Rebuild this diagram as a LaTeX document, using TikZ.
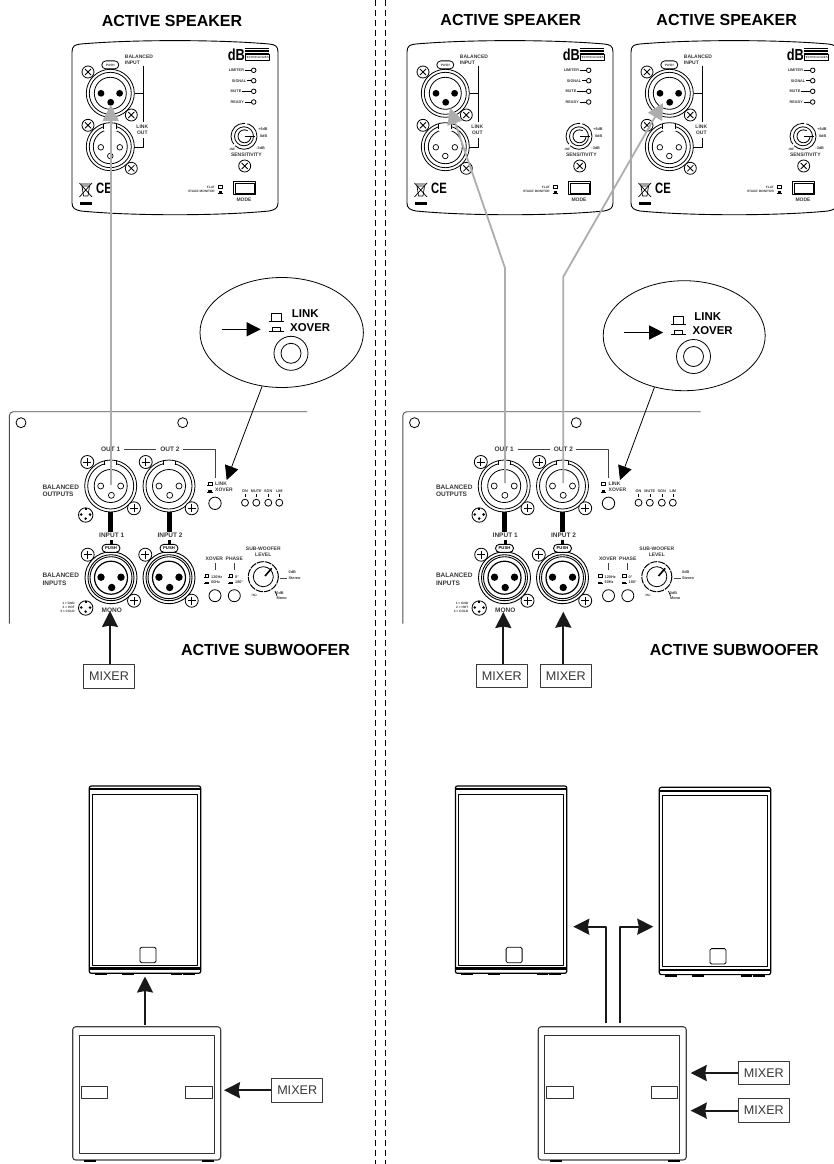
\documentclass[tikz,border=0pt]{standalone}
\usepackage{fontspec}
\setmainfont{Liberation Sans}
\usetikzlibrary{arrows.meta,positioning,shapes.geometric}

\definecolor{inkgray}{gray}{0.22}
\definecolor{cablegray}{gray}{0.68}

\tikzset{
  headlab/.style={font=\bfseries\fontsize{16}{16}\selectfont,inner sep=0pt},
  biglab/.style={font=\bfseries\fontsize{6.5}{7.2}\selectfont,text=inkgray,inner sep=0pt,align=left},
  midlab/.style={font=\bfseries\fontsize{5}{5.8}\selectfont,text=inkgray,inner sep=0pt,align=left},
  smalllab/.style={font=\bfseries\fontsize{3.8}{4.3}\selectfont,text=inkgray,inner sep=0pt,align=left},
  tinylab/.style={font=\bfseries\fontsize{3.2}{3.8}\selectfont,text=inkgray,inner sep=0pt,align=left},
  mixerbox/.style={draw=inkgray,line width=0.8pt,minimum width=51pt,minimum height=23.5pt,inner sep=0pt,
    font=\fontsize{12.6}{13}\selectfont,text=inkgray},
  blackarrow/.style={-{Stealth[length=16pt,width=16pt,inset=1.5pt]},line width=2pt,black!90},
  grayarrow/.style={-{Triangle[length=16pt,width=16pt]},line width=1.8pt,cablegray,line join=round},
  thinarrow/.style={-{Triangle[length=14pt,width=14pt]},line width=0.8pt},
  xscrew/.pic={
    \draw[line width=0.8pt,fill=white] (0,0) circle (6);
    \draw[line width=0.8pt] (-3,-3) -- (3,3) (-3,3) -- (3,-3);
  },
  plusscrew/.pic={
    \draw[line width=0.8pt,fill=white] (0,0) circle (6.5);
    \draw[line width=0.8pt] (-4,0) -- (4,0) (0,-4) -- (0,4);
  },
  xlrsocket/.pic={
    \draw[line width=0.8pt] (0,0) circle (24) circle (21) ;
    \draw[line width=0.8pt] (0,0) circle (16);
    \foreach \x/\y in {-9.3/0,9.3/0,0.4/9}{\fill (\x,\y) circle (3.4);}
    \draw[line width=0.8pt,fill=white,rounded corners=4pt] (-8.5,-32.4) rectangle (8.5,-24.4);
    \node[tinylab] (push) at (0,-28.4) {PUSH};
  },
  xlrplug/.pic={
    \draw[line width=0.8pt] (0,0) circle (24) circle (21);
    \draw[line width=0.8pt] (0,0) circle (17);
    \fill[white] (-6.5,-22) rectangle (6.5,-16);
    \draw[line width=0.8pt] (-6.5,-22.8) -- (-6.5,-18) (6.5,-22.8) -- (6.5,-18);
    \foreach \x/\y in {-9.5/0.6,9.5/0.6,0/9.3}{\draw[line width=0.7pt] (\x,\y) circle (2.8);}
  },
  subplug/.pic={
    \draw[line width=0.8pt] (0,0) circle (26) circle (23);
    \draw[line width=0.8pt] (0,0) circle (16.5);
    \fill[white] (-6,-24.4) rectangle (6,-21.6);
    \draw[line width=0.8pt] (-6,-25) -- (-6,-21) (6,-25) -- (6,-21);
    \foreach \x/\y in {-10/0,10/0,0.7/9.3}{\draw[line width=0.7pt] (\x,\y) circle (3);}
  },
  subsocket/.pic={
    \draw[line width=0.9pt] (0,0) circle (26) circle (23) circle (21);
    \draw[line width=1.2pt] (0,0) circle (16.5);
    \foreach \x/\y in {-10/-0.5,10/-0.5,0.7/9.8}{\fill (\x,\y) circle (3.7);}
    \draw[line width=0.9pt,fill=white,rounded corners=4pt] (-9,-33.4) rectangle (9,-25.4);
    \node[font=\bfseries\fontsize{4.2}{5}\selectfont,inner sep=0pt] (push) at (0,-29.4) {PUSH};
  },
  minixlr/.pic={
    \draw[line width=0.8pt] (0,0) circle (7.2);
    \foreach \x/\y in {-4.4/-0.5,4.4/-0.5,0/3.6}{\fill (\x,\y) circle (1.4);}
    \fill (-1.2,-7) rectangle (1.2,-4.6);
  },
  bigswitch/.pic={
    \draw[line width=0.8pt] (-7.5,0) -- (7.5,0) (-5,0) -- (-5,-8) -- (5,-8) -- (5,0);
  },
  bigswitchdown/.pic={
    \draw[line width=0.8pt] (-7.5,0) -- (7.5,0) (-4,0) -- (-4,-4) -- (4,-4) -- (4,0);
  },
  smallswitch/.pic={
    \draw[line width=0.6pt] (-2.6,1.4) -- (2.6,1.4) (-1.8,1.4) -- (-1.8,-1.6) -- (1.8,-1.6) -- (1.8,1.4);
  },
  smallswitchdown/.pic={
    \draw[line width=0.6pt] (-2.6,1.4) -- (2.6,1.4);
    \fill (-1.8,1.4) rectangle (1.8,-0.4);
  },
  speakerpanel/.pic={
    \draw[line width=0.9pt,fill=white] (0,12) .. controls (0,6) and (3,4.5) .. (9,4) .. controls (60,-0.5) and (146,-0.5) .. (197,4)
      .. controls (203,4.5) and (206,6) .. (206,12) -- (206,163) .. controls (206,168) and (203,170) .. (197,171)
      .. controls (146,176) and (60,176) .. (9,171) .. controls (3,170) and (0,168) .. (0,163) -- cycle;
    \pic at (38.3,53.3) {xlrsocket};
    \pic at (38.3,106.7) {xlrplug};
    \pic at (16,32) {xscrew};
    \pic at (59.3,75) {xscrew};
    \pic at (16,85.3) {xscrew};
    \pic at (59.3,128.3) {xscrew};
    \draw[line width=0.8pt] (71,25.7) -- (71,81.7) (62.5,53.3) -- (71,53.3);
    \draw[line width=0.8pt] (71,98.3) -- (71,107.3) -- (62,107.3);
    \node[midlab,anchor=north west] (balin) at (52.7,15) {BALANCED\\INPUT};
    \node[midlab] (link) at (70.3,87) {LINK};
    \node[midlab] (out) at (70.3,93) {OUT};
    % logo
    \node[font=\bfseries\fontsize{16}{16}\selectfont,inner sep=0pt,xscale=0.8] (logo) at (164.3,15) {dB};
    \foreach \y in {8.8,10.2,11.6,13}{\draw[line width=0.6pt] (173,\y) -- (197,\y);}
    \draw[line width=0.5pt] (173,14.6) rectangle (197,20.6);
    \node[font=\fontsize{3}{3}\selectfont,inner sep=0pt] (techno) at (185,17.6) {TECHNOLOGIES};
    % leds
    \foreach \y/\name/\lab/\st in {30.3/limiter/LIMITER/172.7,40.7/signal/SIGNAL/175,51.3/mute/MUTE/170,62/ready/READY/172.7}{
      \node[smalllab,anchor=east] (\name) at (\st-0.5,\y) {\lab};
      \draw[line width=0.8pt] (\st,\y) -- (179.4,\y);
      \draw[line width=0.8pt] (181.7,\y) circle (2.3);
    }
    % sensitivity
    \draw[line width=0.8pt,dash pattern=on 30pt off 2pt] (172,96.3) circle (13);
    \draw[line width=0.8pt] (172,96.3) circle (9.5);
    \draw[line width=0.8pt] (179,96.3) arc (0:300:6.5);
    \draw[line width=0.8pt] (172.5,96.3) -- (183,96.3);
    \node[smalllab] (plussix) at (191,89.3) {+6dB};
    \node[smalllab] (zerodb) at (191.7,96.3) {0dB};
    \node[smalllab] (minusthree) at (188.7,108.3) {-3dB};
    \node[tinylab] (minusinf) at (160.3,109) {-INF};
    \node[midlab] (sens) at (174.3,115) {SENSITIVITY};
    \pic at (172.7,126) {xscrew};
    % mode
    \draw[line width=1pt] (161.7,141.7) rectangle (183.7,154.3);
    \draw[line width=0.5pt] (163.5,143.2) rectangle (182,152.8);
    \node[midlab] (mode) at (172,160) {MODE};
    \node[tinylab,anchor=east] (flat) at (143,147.3) {FLAT};
    \node[tinylab,anchor=east] (stage) at (143,151.2) {STAGE MONITOR};
    \pic at (148.3,147.3) {smallswitch};
    \pic at (148.3,151.4) {smallswitchdown};
    % marks
    \draw[line width=0.7pt] (9,144) -- (18.5,144) (10,146) -- (11.5,156) -- (16,156) -- (17.5,146) -- cycle;
    \draw[line width=0.7pt] (7.5,143) -- (20,157) (20,143) -- (7.5,157);
    \fill (8,162) rectangle (20,165);
    \node[font=\bfseries\fontsize{15}{15}\selectfont,inner sep=0pt,xscale=0.75] (ce) at (32,148.5) {CE};
  },
  linkcallout/.pic={
    \pic at (276,321.5) {bigswitch};
    \pic at (276,331) {bigswitchdown};
    \node[font=\bfseries\fontsize{11.4}{12}\selectfont,inner sep=0pt,anchor=west] (link) at (291.7,313.3) {LINK};
    \node[font=\bfseries\fontsize{11.4}{12}\selectfont,inner sep=0pt,anchor=west] (xover) at (290,327.3) {XOVER};
    \draw[line width=0.8pt] (291,353.3) circle (17) circle (10);
    \coordinate (pointstart) at (221.7,329.3);
    \coordinate (pointend) at (260.7,329.3);
    \draw[thinarrow] (pointstart) -- (pointend);
  },
  subpanel/.pic={
    \draw[line width=0.9pt,black!70,rounded corners=4pt] (307,411.7) -- (9.3,411.7) -- (9.3,623.5);
    \draw[line width=0.8pt] (21,422.7) circle (5) (182.7,422.7) circle (5);
    \node[biglab] (out1) at (110.7,449.3) {OUT 1};
    \node[biglab] (out2) at (170,449.3) {OUT 2};
    \draw[line width=0.8pt,black!75] (124,449.3) -- (156,449.3) (182.7,449.3) -- (215,449.3) -- (215,478.3);
    \pic at (110.7,486) {subplug};
    \pic at (169,486) {subplug};
    \pic at (87.3,462) {plusscrew};
    \pic at (134,508.3) {plusscrew};
    \pic at (145.7,462) {plusscrew};
    \pic at (191.7,508.3) {plusscrew};
    \pic at (85.7,515) {minixlr};
    \node[biglab,anchor=west] (balout) at (42.3,490.8) {BALANCED\\OUTPUTS};
    \fill (108.2,511.7) rectangle (113.2,531.7);
    \fill (166.5,511.7) rectangle (171.5,531.7);
    \node[biglab] (input1) at (111.7,535.7) {INPUT 1};
    \node[biglab] (input2) at (170,535.7) {INPUT 2};
    \fill (110.2,540) rectangle (113.2,544);
    \fill (167.8,540) rectangle (170.8,544);
    \pic at (111,577.7) {subsocket};
    \pic at (169,577.7) {subsocket};
    \pic at (87.7,554.7) {plusscrew};
    \pic at (134,600.7) {plusscrew};
    \pic at (145.3,554.7) {plusscrew};
    \pic at (191.7,600.7) {plusscrew};
    \pic at (85.7,608) {minixlr};
    \node[biglab,anchor=west] (balin) at (42.3,579.2) {BALANCED\\INPUTS};
    \node[tinylab,anchor=east,align=right] (legend) at (75,607.5) {1 = GND\\2 = HOT\\3 = COLD};
    \node[biglab] (mono) at (111.7,610.7) {MONO};
    % link switch
    \pic at (210,484) {smallswitch};
    \pic at (210,490.6) {smallswitchdown};
    \node[midlab,anchor=west] (link) at (215,484) {LINK};
    \node[midlab,anchor=west] (xover) at (215,490) {XOVER};
    \draw[line width=0.8pt] (215,503.3) circle (6.2);
    % status leds
    \foreach \x/\lab in {245/ON,256.3/MUTE,268.3/SGN,279.3/LIM}{
      \node[smalllab] (led\lab) at (\x,491) {\lab};
      \draw[line width=0.6pt] (\x,494) -- (\x,497.3);
      \draw[line width=0.8pt] (\x,502.7) circle (3.5);
    }
    % xover and phase
    \node[midlab] (xovertop) at (214.3,559) {XOVER};
    \node[midlab] (phase) at (234.3,559) {PHASE};
    \draw[line width=0.8pt,black!75] (215,563) -- (215,570) (234.3,563) -- (234.3,570);
    \pic at (206.7,576) {smallswitch};
    \pic at (206.7,582.3) {smallswitchdown};
    \pic at (230.7,576) {smallswitch};
    \pic at (230.7,582.3) {smallswitchdown};
    \node[smalllab,anchor=west] (hz120) at (211,577) {120Hz};
    \node[smalllab,anchor=west] (hz60) at (211,582.3) {60Hz};
    \node[smalllab,anchor=west] (deg0) at (235,577) {0\textdegree};
    \node[smalllab,anchor=west] (deg180) at (235,582.3) {180\textdegree};
    \draw[line width=0.8pt] (215,595.7) circle (6) (234.3,595.7) circle (6);
    % level knob
    \node[midlab,align=center] (sublevel) at (263.3,551.6) {SUB-WOOFER\\LEVEL};
    \draw[line width=1pt,dash pattern=on 7pt off 1pt] (263.3,576.7) circle (15);
    \draw[line width=0.8pt] (263.3,576.7) circle (10);
    \draw[line width=1.6pt] (265,576) -- (271.7,568.3);
    \draw[line width=1pt,black!70] (280,578.3) -- (287,578.3);
    \draw[line width=0.7pt] (275,591) -- (277,596);
    \node[smalllab] (stereozero) at (292.3,572.5) {0dB};
    \node[smalllab] (stereo) at (294.5,577.7) {Stereo};
    \node[smalllab] (monozero) at (280,593.3) {0dB};
    \node[smalllab] (monolab) at (281.7,598.3) {Mono};
    \node[font=\fontsize{5}{5}\selectfont,inner sep=0pt] (infty) at (254.3,595) {$\infty$};
  },
  speakerbox/.pic={
    \draw[line width=1.2pt,rounded corners=2pt] (0,0) rectangle (111.4,187.3);
    \fill (0,2.4) rectangle (111.4,4.4);
    \draw[line width=0.9pt] (3,8.3) rectangle (108.4,179);
    \fill (0,181.2) rectangle (111.4,183.8);
    \draw[line width=0.8pt,rounded corners=1.5pt] (50.7,161.3) rectangle (66.7,176.7);
    \foreach \x in {5.7,33,81.4,94}{\fill (\x,187.3) rectangle (\x+11.5,189.2);}
  },
  subbox/.pic={
    \draw[line width=1.1pt,black!75,rounded corners=3pt] (0,0) rectangle (148,133.3);
    \draw[line width=1pt,black!80] (6.6,9) rectangle (141.6,126.6);
    \draw[line width=0.8pt,black!80] (8.6,59.3) rectangle (35,72);
    \draw[line width=0.8pt,black!80] (113,59.3) rectangle (139.3,72);
    \foreach \x in {11.3,129.3}{\fill (\x,133.3) rectangle (\x+12,135.3);}
  }
}

\begin{document}
\begin{tikzpicture}[x=1pt,y=-1pt,line join=round,>=Stealth]
  \useasboundingbox (0,0) rectangle (834,1164);

  % divider
  \draw[line width=0.6pt,dash pattern=on 6pt off 4pt] (375.7,0) -- (375.7,1164);
  \draw[line width=0.6pt,dash pattern=on 6pt off 4pt] (385,0) -- (385,1164);

  % titles
  \node[headlab] (titleL) at (172,21) {ACTIVE SPEAKER};
  \node[headlab] (titleA) at (510.7,20) {ACTIVE SPEAKER};
  \node[headlab] (titleB) at (726.7,20) {ACTIVE SPEAKER};
  \node[headlab] (subtitleL) at (265.5,650) {ACTIVE SUBWOOFER};
  \node[headlab] (subtitleR) at (734.3,650) {ACTIVE SUBWOOFER};

  % rear panels
  \pic (spkL) at (72,40) {speakerpanel};
  \pic (spkA) at (407,40) {speakerpanel};
  \pic (spkB) at (631,40) {speakerpanel};
  \pic (subL) at (0,0) {subpanel};
  \pic (subR) at (393.5,0) {subpanel};

  % zoomed switch
  \node[draw,ellipse,line width=0.8pt,minimum width=163.4pt,minimum height=110pt,inner sep=0pt] (zoomL) at (281.7,332.5) {};
  \node[draw,ellipse,line width=0.8pt,minimum width=162pt,minimum height=110pt,inner sep=0pt] (zoomR) at (684.2,335.7) {};
  \pic (calloutL) at (0,0) {linkcallout};
  \pic (calloutR) at (402.5,3.2) {linkcallout};

  \coordinate (switchL) at (226.7,480);
  \coordinate (switchR) at (620,480);
  \draw[thinarrow] (zoomL.250) -- (switchL);
  \draw[thinarrow] (zoomR.240) -- (switchR);

  % link cables
  \coordinate (jackL) at (110.7,485);
  \coordinate (inL) at (110.7,105);
  \draw[grayarrow] (jackL) -- (inL);
  \coordinate (jackA) at (505,483);
  \coordinate (bendA) at (505,268);
  \coordinate (inA) at (450,108);
  \draw[grayarrow] (jackA) -- (bendA) -- (inA);
  \coordinate (jackB) at (563.3,483);
  \coordinate (bendB) at (563.3,276.7);
  \coordinate (inB) at (663,103);
  \draw[grayarrow] (jackB) -- (bendB) -- (inB);

  % mixers on the panels
  \node[mixerbox] (mixerL) at (109,676.3) {MIXER};
  \node[mixerbox] (mixerA) at (501.8,675.8) {MIXER};
  \node[mixerbox] (mixerB) at (565.7,675.8) {MIXER};
  \coordinate (monoL) at (110,611);
  \coordinate (monoA) at (503.3,612);
  \coordinate (monoB) at (563.3,611.7);
  \draw[blackarrow] (mixerL.north -| monoL) -- (monoL);
  \draw[blackarrow] (mixerA.north -| monoA) -- (monoA);
  \draw[blackarrow] (mixerB.north -| monoB) -- (monoB);

  % cabinets
  \pic (boxL) at (89.3,786) {speakerbox};
  \pic (boxA) at (455.4,786) {speakerbox};
  \pic (boxB) at (659.3,787.3) {speakerbox};
  \pic (woofL) at (72.7,1026.7) {subbox};
  \pic (woofR) at (538.2,1026.7) {subbox};

  % left cabling
  \coordinate (woofoutL) at (145,1025);
  \coordinate (boxinL) at (145,976.5);
  \draw[blackarrow] (woofoutL) -- (boxinL);
  \node[mixerbox] (mixerC) at (297.2,1090.2) {MIXER};
  \coordinate (woofinL) at (224,1090.2);
  \draw[blackarrow] (mixerC) -- (woofinL);

  % right cabling
  \coordinate (woofoutA) at (606,1023.3);
  \coordinate (woofoutB) at (619.7,1023.3);
  \coordinate (boxinA) at (573.3,926.7);
  \coordinate (boxinB) at (653.3,926.7);
  \draw[blackarrow] (woofoutA) |- (boxinA);
  \draw[blackarrow] (woofoutB) |- (boxinB);
  \node[mixerbox] (mixerD) at (763.8,1073) {MIXER};
  \node[mixerbox] (mixerE) at (763.8,1110.6) {MIXER};
  \coordinate (woofinA) at (690.7,1073);
  \coordinate (woofinB) at (690.7,1110.6);
  \draw[blackarrow] (mixerD) -- (woofinA);
  \draw[blackarrow] (mixerE) -- (woofinB);
\end{tikzpicture}
\end{document}
